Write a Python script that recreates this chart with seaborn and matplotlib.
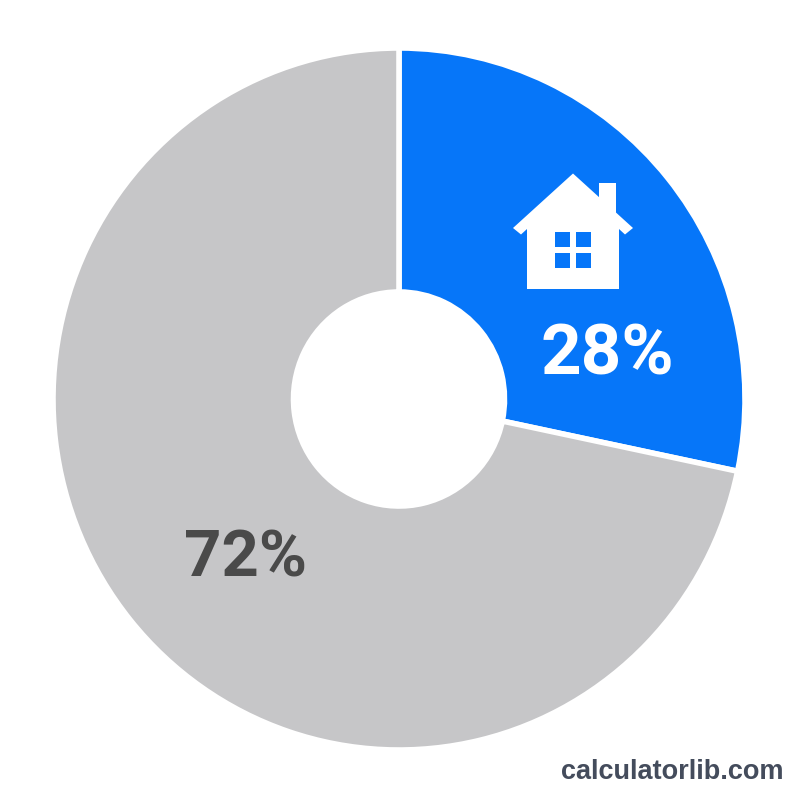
import matplotlib.pyplot as plt
from matplotlib.patches import Polygon, Rectangle
import seaborn as sns

# Data
labels = ["28%", "72%"]
# slice sizes as measured off the ring, a little over the printed 28
values = [28.3, 71.7]
colors = ["#0676f9", "#c6c6c8"]

sns.set_theme(style="white")
plt.rcParams['font.family'] = ['Liberation Sans', 'DejaVu Sans']

fig = plt.figure(figsize=(8, 8), dpi=100)

# Pie gets its own axes, the reference ring is a bit taller than wide
pie_ax = fig.add_axes([0, 0, 1, 1])
pie_ax.pie(values, colors=colors, startangle=-90, counterclock=True, center=(399, 399), radius=346,
           wedgeprops=dict(width=240.5, edgecolor='white', linewidth=4))
squash = 346 / 351
pie_ax.set_aspect('auto')
pie_ax.set_xlim(0, 800)
pie_ax.set_ylim(399 + 401 * squash, 399 - 399 * squash)
pie_ax.axis('off')

# Overlay in pixel coordinates for the icon and the text
ax = fig.add_axes([0, 0, 1, 1])
ax.set_xlim(0, 800)
ax.set_ylim(800, 0)
ax.axis('off')
ax.patch.set_alpha(0)

# House icon
white = 'white'
ax.add_patch(Polygon([(513, 228), (573, 173.5), (633, 228), (625, 234.5), (619, 229), (619, 289),
                      (527, 289), (527, 229), (521, 234.5)], color=white, lw=0))
ax.add_patch(Rectangle((599, 183), 17, 30, color=white, lw=0))
for x0 in (555, 576):
    for y0 in (232, 253):
        ax.add_patch(Rectangle((x0, y0), 15, 15, color=colors[0], lw=0))

ax.text(607, 355, labels[0], color='white', fontsize=51, fontweight='bold', family='Roboto', ha='center', va='center')
ax.text(245, 559, labels[1], color='#4a4a4a', fontsize=47, fontweight='bold', family='Roboto', ha='center', va='center')
ax.text(783, 772, "calculatorlib.com", color='#444c5c', fontsize=19.5, fontweight='bold', ha='right', va='center')

fig.savefig("out.png", dpi=100)
